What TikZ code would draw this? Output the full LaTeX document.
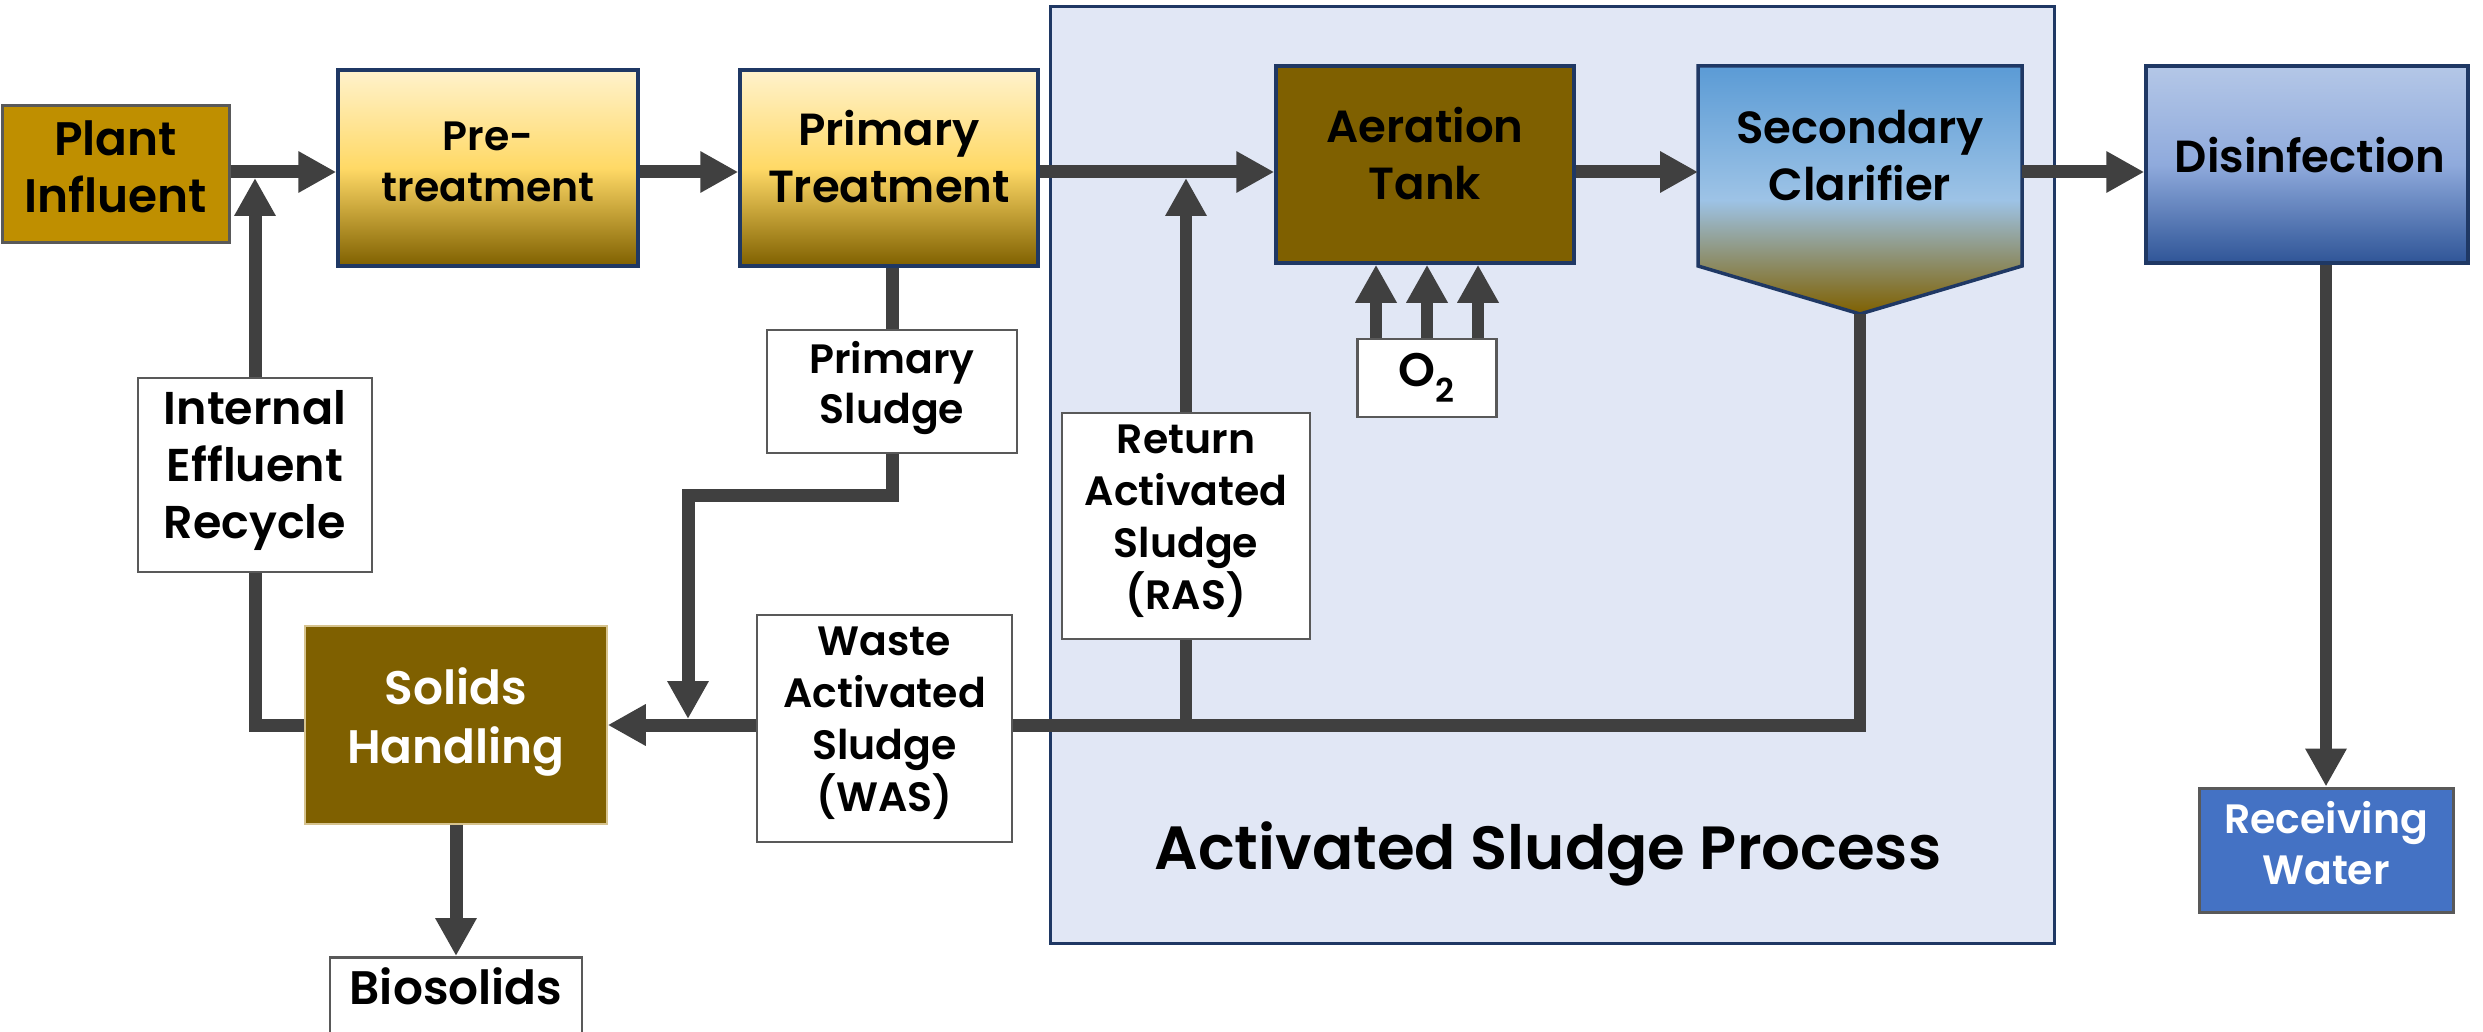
\documentclass[tikz,border=0pt]{standalone}
\usepackage{fontspec}
\setmainfont{Poppins}[BoldFont={Poppins SemiBold}]
\usetikzlibrary{arrows.meta,calc}
\definecolor{navy}{HTML}{1F3864}
\definecolor{bgblue}{HTML}{E1E7F5}
\definecolor{linegray}{HTML}{404040}
\definecolor{boxgray}{HTML}{595959}
\definecolor{gold}{HTML}{BF8F00}
\definecolor{brownc}{HTML}{7F6000}
\definecolor{yeltop}{HTML}{FFF2CC}
\definecolor{yelmid}{HTML}{FFD966}
\definecolor{cltop}{HTML}{5B9BD5}
\definecolor{clmid}{HTML}{9DC3E6}
\definecolor{distop}{HTML}{B4C7E7}
\definecolor{dismid}{HTML}{8FAADC}
\definecolor{disbot}{HTML}{2F5597}
\definecolor{rwblue}{HTML}{4472C4}
\definecolor{tanline}{HTML}{D6C38F}
\pgfdeclareverticalshading{yellowgrad}{100bp}{color(0bp)=(brownc); color(25bp)=(brownc); color(50bp)=(yelmid); color(75bp)=(yeltop); color(100bp)=(yeltop)}
\pgfdeclareverticalshading{clargrad}{100bp}{color(0bp)=(brownc); color(25bp)=(brownc); color(48bp)=(clmid); color(75bp)=(cltop); color(100bp)=(cltop)}
\pgfdeclareverticalshading{disgrad}{100bp}{color(0bp)=(disbot); color(25bp)=(disbot); color(50bp)=(dismid); color(75bp)=(distop); color(100bp)=(distop)}
\newcommand\fntBig{\fontsize{47}{57}\selectfont\bfseries}
\newcommand\fntPre{\fontsize{41}{51}\selectfont\bfseries}
\newcommand\fntPrim{\fontsize{45}{57}\selectfont\bfseries}
\newcommand\fntAer{\fontsize{45}{57}\selectfont\bfseries}
\newcommand\fntLab{\fontsize{41}{50}\selectfont\bfseries}
\newcommand\fntSmall{\fontsize{41}{52}\selectfont\bfseries}
\newcommand\fntIER{\fontsize{46}{57}\selectfont\bfseries}
\newcommand\fntSH{\fontsize{47}{59}\selectfont\bfseries}
\newcommand\fntRW{\fontsize{41}{51}\selectfont\bfseries}
\newcommand\fntHuge{\fontsize{61}{75}\selectfont\bfseries}
\tikzset{
  procbox/.style={draw=navy, line width=3.5pt, inner sep=0pt},
  labelbox/.style={draw=boxgray, fill=white, line width=2.5pt, inner sep=0pt},
  txt/.style={inner sep=0pt, align=center},
  flow/.style={draw=linegray, line width=13pt, line join=miter, -{Triangle[length=38pt,width=39pt]}},
  thinflow/.style={draw=linegray, line width=11.5pt, line join=miter, -{Triangle[length=38pt,width=39pt]}},
  pipe/.style={draw=linegray, line width=13pt, line join=miter},
  thinpipe/.style={draw=linegray, line width=11.5pt, line join=miter}
}
\begin{document}
\begin{tikzpicture}[x=1pt,y=-1pt]
\useasboundingbox (0,0) rectangle (2483,1032);
\clip (0,0) rectangle (2483,1032);
\fill[white] (0,0) rectangle (2483,1032);

% activated sludge process frame
\node[draw=navy, line width=3pt, fill=bgblue, minimum width=1004pt, minimum height=936pt, inner sep=0pt] (asp) at (1552,475) {};
\node[txt, font=\fntHuge, anchor=base] (asplabel) at (1548,869) {Activated Sludge Process};

% helper coordinates
\coordinate (mainy) at (0,172);
\coordinate (mainb) at (0,178);
\coordinate (lowy) at (0,725);
\coordinate (psy) at (0,495);
\coordinate (psx) at (688,0);
\coordinate (pstip) at (0,719);
\coordinate (clarW) at (1698,166);
\coordinate (clarE) at (2022,166);
\coordinate (clarB) at (1860,314);

% process boxes
\node[procbox, draw=boxgray, line width=3pt, fill=gold, minimum width=227pt, minimum height=137pt] (pi) at (115.5,174.5) {};
\node[txt, font=\fntBig] (pitxt) at (115.5,166.5) {Plant\\Influent};
\node[procbox, shade, shading=yellowgrad, minimum width=300pt, minimum height=196pt] (pre) at (488,168) {};
\node[txt, font=\fntPre] (pretxt) at (488,162) {Pre-\\treatment};
\node[procbox, shade, shading=yellowgrad, minimum width=298pt, minimum height=196pt] (prim) at (889,168) {};
\node[txt, font=\fntPrim] (primtxt) at (889,157) {Primary\\Treatment};
\node[procbox, fill=brownc, minimum width=298pt, minimum height=197pt] (aer) at (1425,164.5) {};
\node[txt, font=\fntAer] (aertxt) at (1425,153.5) {Aeration\\Tank};
\path[draw=navy, line width=3.5pt, shade, shading=clargrad] (1698,66) -- (2022,66) -- (2022,266) -- (1860,314) -- (1698,266) -- cycle;
\node[txt, font=\fntAer] (clar) at (1860,156) {Secondary\\Clarifier};
\node[procbox, shade, shading=disgrad, minimum width=322pt, minimum height=197pt] (dis) at (2307,164.5) {};
\node[txt, font=\fntAer] (distxt) at (2310,155) {Disinfection};
\node[procbox, draw=boxgray, line width=3pt, fill=rwblue, minimum width=254pt, minimum height=124pt] (rw) at (2326,850) {};
\node[txt, font=\fntRW, text=white] (rwtxt) at (2326,843) {Receiving\\Water};
\node[procbox, draw=tanline, line width=1.5pt, fill=brownc, minimum width=302pt, minimum height=198pt] (sh) at (456,725) {};
\node[txt, font=\fntSH, text=white] (shtxt) at (456,722) {Solids\\Handling};

% label boxes
\node[labelbox, minimum width=250pt, minimum height=123pt] (ps) at (892,391.5) {};
\node[txt, font=\fntLab] (pstxt) at (892,388.5) {Primary\\Sludge};
\node[labelbox, minimum width=139pt, minimum height=78pt, font=\fntBig] (o2) at (1427,378) {O\textsubscript{2}};
\node[labelbox, minimum width=234pt, minimum height=194pt] (ier) at (255,475) {};
\node[txt, font=\fntIER] (iertxt) at (255,471) {Internal\\Effluent\\Recycle};
\node[labelbox, minimum width=248pt, minimum height=226pt] (ras) at (1186,526) {};
\node[txt, font=\fntSmall] (rastxt) at (1186,521) {Return\\Activated\\Sludge\\(RAS)};
\node[labelbox, minimum width=255pt, minimum height=227pt] (was) at (884.5,728.5) {};
\node[txt, font=\fntSmall] (wastxt) at (884.5,723.5) {Waste\\Activated\\Sludge\\(WAS)};
\node[labelbox, minimum width=252pt, minimum height=140pt, text height=34pt, text depth=80pt, anchor=north, font=\fntBig] (bio) at (456,956) {Biosolids};

% main flow
\draw[flow] (pi.east |- mainy) -- (pre.west |- mainy);
\draw[flow] (pre.east |- mainy) -- (prim.west |- mainy);
\draw[flow] (prim.east |- mainy) -- (aer.west |- mainy);
\draw[flow] (aer.east |- mainy) -- (clarW |- mainy);
\draw[flow] (clarE |- mainy) -- (dis.west |- mainy);
\draw[thinflow] (dis.south -| rw.north) -- (rw.north);

% primary sludge
\draw[pipe] (ps.north |- prim.south) -- (ps.north);
\draw[flow] (ps.south) -- (ps.south |- psy) -- (psx |- psy) -- (psx |- pstip);

% return / waste activated sludge
\draw[thinpipe] (clarB) -- ($(clarB |- lowy)+(0,6.5)$);
\draw[pipe] ($(clarB |- lowy)+(5.75,0)$) -- (was.east |- lowy);
\draw[flow] (was.west |- lowy) -- (sh.east |- lowy);
\draw[thinpipe] (ras.south) -- ($(ras.south |- lowy)+(0,-6.5)$);
\draw[thinflow] (ras.north) -- (ras.north |- mainb);

% internal effluent recycle
\draw[pipe] (sh.west) -- (ier.south |- sh.west) -- (ier.south);
\draw[flow] (ier.north) -- (ier.north |- mainb);

% biosolids
\draw[flow] (sh.south) -- (bio.north);

% oxygen
\draw[thinflow] ([xshift=-51pt]o2.north) -- ([xshift=-51pt]o2.north |- aer.south);
\draw[thinflow] (o2.north) -- (o2.north |- aer.south);
\draw[thinflow] ([xshift=51pt]o2.north) -- ([xshift=51pt]o2.north |- aer.south);
\end{tikzpicture}
\end{document}
